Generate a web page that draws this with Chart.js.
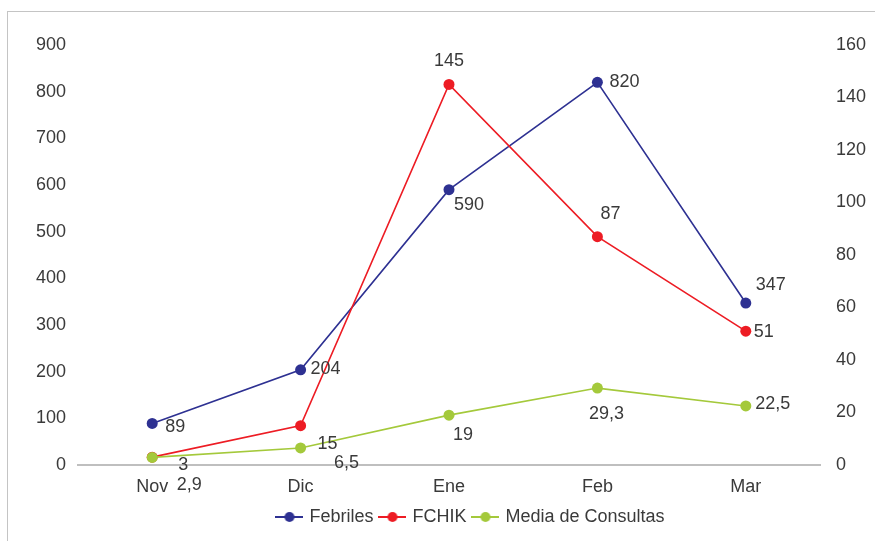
<!DOCTYPE html>
<html lang="es">
<head>
<meta charset="UTF-8">
<title>Febriles, FCHIK y media de consultas</title>
<script src="https://cdn.jsdelivr.net/npm/chart.js"></script>
<style>
    body {
        margin: 0;
        background: #fff;
        font-family: Arial, "Liberation Sans", sans-serif;
    }
    #wrap {
        position: relative;
        width: 875px;
        height: 541px;
        overflow: hidden;
    }
    #frame {
        position: absolute;
        left: 7px;
        top: 11px;
        width: 900px;
        height: 600px;
        border: 1px solid #c4c4c4;
    }
    canvas {
        position: absolute;
        left: 0;
        top: 0;
    }
</style>
</head>
<body>
<div id="wrap">
    <div id="frame"></div>
    <canvas id="chart" width="875" height="541"></canvas>
</div>
<script>
    const months = ['Nov', 'Dic', 'Ene', 'Feb', 'Mar'];
    const febriles = [89, 204, 590, 820, 347];
    const fchik = [3, 15, 145, 87, 51];
    const mediaConsultas = [2.9, 6.5, 19, 29.3, 22.5];
    const leftMax = 900, leftStep = 100;
    const rightMax = 160, rightStep = 20;

    // where each value label sits, relative to its point (dx, dy)
    const febrilesLabelPos = [[23, 4], [25, -1], [20, 15], [27, 0], [25, -18]];
    const fchikLabelPos = [[31, 8], [27, 18], [0, -23], [13, -23], [18, 1]];
    const mediaLabelPos = [[37, 28], [46, 15], [14, 20], [9, 26], [27, -2]];
    const labelPos = [febrilesLabelPos, fchikLabelPos, mediaLabelPos];

    const colors = ['#2E3192', '#ED1C24', '#A4C93B'];
    const textColor = '#3a3a3a';
    const fontFamily = "'Liberation Sans', Arial, sans-serif";

    function fmt(v) {
        return String(v).replace('.', ',');
    }

    function legendIcon(color) {
        const c = document.createElement('canvas');
        c.width = 28;
        c.height = 12;
        const g = c.getContext('2d');
        g.strokeStyle = color;
        g.lineWidth = 2;
        g.beginPath();
        g.moveTo(0, 6);
        g.lineTo(28, 6);
        g.stroke();
        g.fillStyle = color;
        g.beginPath();
        g.arc(14, 6, 5, 0, Math.PI * 2);
        g.fill();
        return c;
    }
    const icons = colors.map(legendIcon);

    const pointLabels = {
        id: 'pointLabels',
        afterDatasetsDraw(chart) {
            const ctx = chart.ctx;
            ctx.save();
            ctx.font = '18px ' + fontFamily;
            ctx.fillStyle = textColor;
            ctx.textAlign = 'center';
            ctx.textBaseline = 'middle';
            chart.data.datasets.forEach((ds, i) => {
                const meta = chart.getDatasetMeta(i);
                meta.data.forEach((pt, j) => {
                    const [dx, dy] = labelPos[i][j];
                    ctx.fillText(fmt(ds.data[j]), pt.x + dx, pt.y + dy);
                });
            });
            ctx.restore();
        }
    };

    const shiftLegend = {
        id: 'shiftLegend',
        afterLayout(chart) {
            chart.legend.left += 34;
            chart.legend.right += 34;
        }
    };

    Chart.defaults.font.family = fontFamily;
    Chart.defaults.font.size = 18;
    Chart.defaults.color = textColor;

    function lineSet(label, data, color, axis, order) {
        return {
            label: label,
            data: data,
            yAxisID: axis,
            borderColor: color,
            backgroundColor: color,
            borderWidth: 1.6,
            pointRadius: 5.5,
            pointHoverRadius: 5.5,
            pointBorderWidth: 0,
            tension: 0,
            order: order
        };
    }

    new Chart(document.getElementById('chart'), {
        type: 'line',
        data: {
            labels: months,
            datasets: [
                lineSet('Febriles', febriles, colors[0], 'y', 2),
                lineSet('FCHIK', fchik, colors[1], 'y1', 1),
                lineSet('Media de Consultas', mediaConsultas, colors[2], 'y1', 0)
            ]
        },
        options: {
            responsive: false,
            animation: false,
            layout: { padding: { top: 45, bottom: 5, left: 0, right: 0 } },
            plugins: {
                tooltip: { enabled: false },
                legend: {
                    position: 'bottom',
                    labels: {
                        usePointStyle: true,
                        pointStyleWidth: 22,
                        padding: 8,
                        color: textColor,
                        font: { size: 18 },
                        sort: (a, b) => a.datasetIndex - b.datasetIndex,
                        generateLabels(chart) {
                            const items = Chart.defaults.plugins.legend.labels.generateLabels(chart);
                            items.forEach(it => { it.pointStyle = icons[it.datasetIndex]; });
                            return items;
                        }
                    }
                }
            },
            scales: {
                x: {
                    offset: true,
                    grid: { display: false, drawTicks: false },
                    border: { display: true, color: '#bfbfbf', width: 2 },
                    ticks: { padding: 11, color: textColor },
                    afterFit(s) { s.height = 35; }
                },
                y: {
                    position: 'left',
                    min: 0,
                    max: leftMax,
                    grid: { display: false, drawTicks: false },
                    border: { display: false },
                    ticks: { stepSize: leftStep, padding: 12, color: textColor },
                    afterFit(s) { s.width = 78; }
                },
                y1: {
                    position: 'right',
                    min: 0,
                    max: rightMax,
                    grid: { display: false, drawTicks: false },
                    border: { display: false },
                    ticks: { stepSize: rightStep, padding: 16, color: textColor },
                    afterFit(s) { s.width = 55; }
                }
            }
        },
        plugins: [pointLabels, shiftLegend]
    });
</script>
</body>
</html>
